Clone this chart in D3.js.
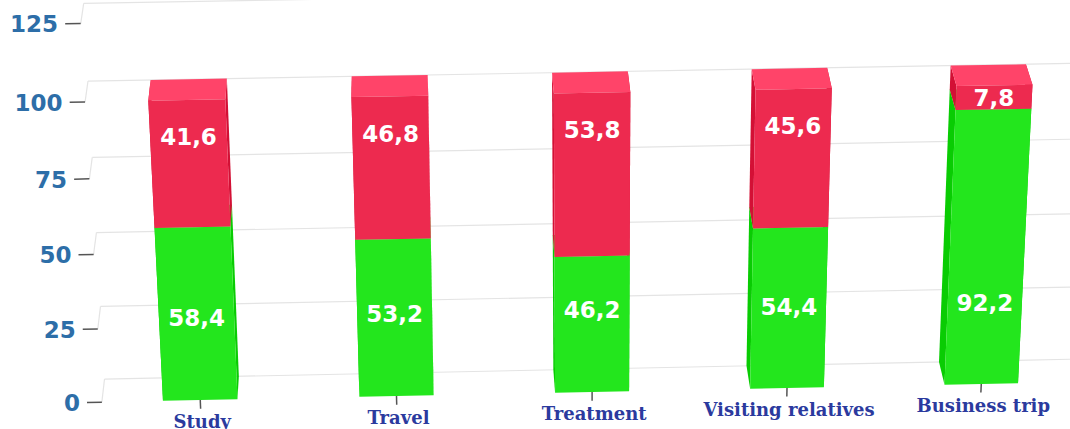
<!DOCTYPE html>
<html>
<head>
<meta charset="utf-8">
<script src="https://cdn.jsdelivr.net/npm/d3@7"></script>
<style>
  body { margin: 0; background: #fff; overflow: hidden; }
  svg { display: block; }
</style>
</head>
<body>
<div id="chartDiv"></div>
<script>
// data
var categories = ['Study', 'Travel', 'Treatment', 'Visiting relatives', 'Business trip'];
var greenValues = [58.4, 53.2, 46.2, 54.4, 92.2];
var redValues = [41.6, 46.8, 53.8, 45.6, 7.8];
var yTickValues = [0, 25, 50, 75, 100, 125];

var chartWidth = 1070;
var chartHeight = 429;

// 3d view settings
var alpha = 26.5 * Math.PI / 180;
var beta = -2.5 * Math.PI / 180;
var viewDistance = 4450;
var depth = 49.5;
var ox = 592, oy = 250;
var sinA = Math.sin(alpha), cosA = Math.cos(alpha);
var sinB = Math.sin(-beta), cosB = Math.cos(-beta);

function project(px, py, pz) {
  var X = px - ox, Y = py - oy, Z = pz;
  var xr = cosB * X - sinB * Z;
  var yr = -sinA * sinB * X + cosA * Y - sinA * cosB * Z;
  var zr = cosA * sinB * X + sinA * Y + cosA * cosB * Z;
  var p = viewDistance / (viewDistance + zr);
  return [ox + xr * p, oy + yr * p];
}

var colors = { green: '#23e61d', red: '#ed2a4f' };

// lighten / darken by a fixed amount per channel
function shade(c, amt) {
  var r = d3.rgb(c);
  return d3.rgb(r.r + amt, r.g + amt, r.b + amt).clamp().toString();
}

var rows = categories.map(function(c, i) {
  return { cat: c, green: greenValues[i], red: redValues[i] };
});
var stacked = d3.stack().keys(['green', 'red'])(rows);

var x = d3.scaleBand()
  .domain(categories)
  .range([95.6, 1088.6])
  .paddingInner(0.621)
  .paddingOuter(0.3105);

var y = d3.scaleLinear()
  .domain([0, 125])
  .range([411.2, -6.2]);

var svg = d3.select('#chartDiv')
  .append('svg')
  .attr('width', chartWidth)
  .attr('height', chartHeight);

var poly = d3.line().curve(d3.curveLinearClosed);
function face(pts) {
  return poly(pts.map(function(p) { return project(p[0], p[1], p[2]); }));
}

var left = x.range()[0], right = x.range()[1] + 40;

// back wall grid lines + side wall lines
var grid = svg.append('g').attr('fill', 'none').attr('stroke', '#e4e4e4').attr('stroke-width', 1.2);
yTickValues.forEach(function(v) {
  var a = project(left, y(v), depth), b = project(right, y(v), depth);
  var c = project(left, y(v), 0);
  grid.append('path').attr('d', 'M' + a + 'L' + b);
  grid.append('path').attr('d', 'M' + c + 'L' + a);
});

// y axis ticks and labels
var yAxis = svg.append('g');
yTickValues.forEach(function(v) {
  var t0 = project(left - 15, y(v), 0), t1 = project(left, y(v), 0);
  yAxis.append('path')
    .attr('d', 'M' + t0 + 'L' + t1)
    .attr('stroke', '#555')
    .attr('stroke-width', 1.5);
  var lp = project(left - 22, y(v), 0);
  yAxis.append('text')
    .attr('x', lp[0])
    .attr('y', lp[1])
    .attr('dy', '0.36em')
    .attr('text-anchor', 'end')
    .attr('font-family', 'DejaVu Sans')
    .attr('font-weight', 'bold')
    .attr('font-size', 23)
    .attr('fill', '#2d6ea8')
    .text(v);
});

// x axis ticks and labels
var xAxis = svg.append('g');
categories.forEach(function(c) {
  var cx = x(c) + x.bandwidth() / 2;
  var b0 = project(cx, y(0), 0), b1 = project(cx, y(0) + 10, 0);
  xAxis.append('path')
    .attr('d', 'M' + b0 + 'L' + b1)
    .attr('stroke', '#555')
    .attr('stroke-width', 1.5);
  xAxis.append('text')
    .attr('x', b0[0] + 2)
    .attr('y', b0[1] + 28)
    .attr('text-anchor', 'middle')
    .attr('font-family', 'DejaVu Serif')
    .attr('font-weight', 'bold')
    .attr('font-size', 18)
    .attr('fill', '#2b3a9e')
    .text(c);
});

// columns
var bars = svg.append('g');
categories.forEach(function(c, i) {
  var x0 = x(c), x1 = x(c) + x.bandwidth();
  stacked.forEach(function(layer) {
    var d = layer[i];
    var base = colors[layer.key];
    var side = shade(base, -26), top = shade(base, 26);
    var yb = y(d[0]), yt = y(d[1]);
    var g = bars.append('g');
    g.append('path').attr('fill', side)
      .attr('d', face([[x0, yt, 0], [x0, yt, depth], [x0, yb, depth], [x0, yb, 0]]));
    g.append('path').attr('fill', side)
      .attr('d', face([[x1, yt, 0], [x1, yt, depth], [x1, yb, depth], [x1, yb, 0]]));
    g.append('path').attr('fill', top)
      .attr('d', face([[x0, yt, 0], [x1, yt, 0], [x1, yt, depth], [x0, yt, depth]]));
    g.append('path').attr('fill', base)
      .attr('d', face([[x0, yt, 0], [x1, yt, 0], [x1, yb, 0], [x0, yb, 0]]));
  });
});

// data labels
var fmt = d3.formatLocale({ decimal: ',', thousands: ' ', grouping: [3], currency: ['', ''] }).format('.1f');
var labelLevel = { green: 28, red: 88 };
var labels = svg.append('g');
categories.forEach(function(c, i) {
  var cx = x(c) + x.bandwidth() / 2;
  stacked.forEach(function(layer) {
    var d = layer[i];
    var lv = labelLevel[layer.key];
    if (lv < d[0] || lv > d[1]) lv = (d[0] + d[1]) / 2;
    var p = project(cx, y(lv), 0);
    labels.append('text')
      .attr('x', p[0])
      .attr('y', p[1])
      .attr('dy', '0.36em')
      .attr('text-anchor', 'middle')
      .attr('font-family', 'DejaVu Sans')
      .attr('font-weight', 'bold')
      .attr('font-size', 23)
      .attr('fill', '#fff')
      .text(fmt(d.data[layer.key]));
  });
});
</script>
</body>
</html>
